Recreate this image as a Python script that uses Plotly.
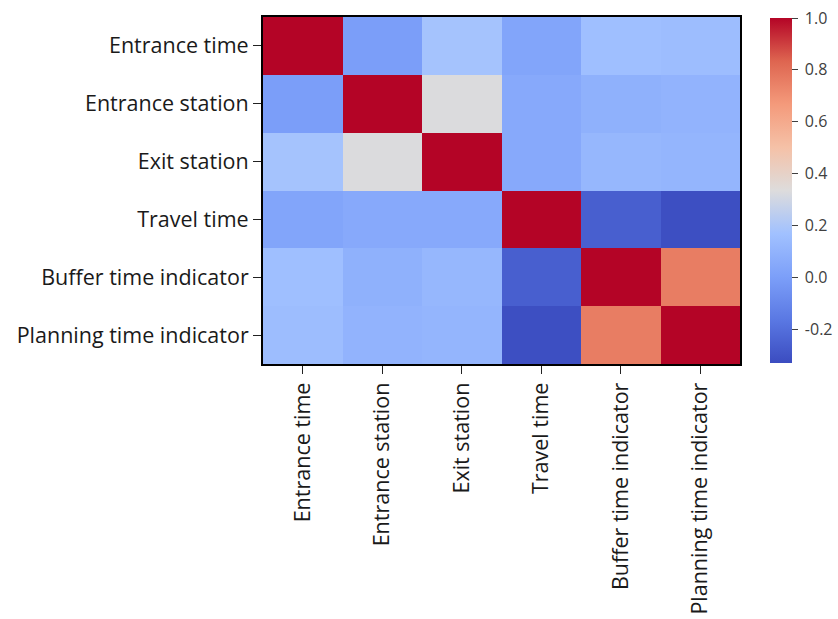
import plotly.graph_objects as go

labels = ["Entrance time", "Entrance station", "Exit station", "Travel time",
          "Buffer time indicator", "Planning time indicator"]

row_entrance_time = [1.00, 0.00, 0.18, 0.03, 0.16, 0.15]
row_entrance_station = [0.00, 1.00, 0.33, 0.05, 0.09, 0.10]
row_exit_station = [0.18, 0.33, 1.00, 0.05, 0.12, 0.11]
row_travel_time = [0.03, 0.05, 0.05, 1.00, -0.26, -0.32]
row_buffer = [0.16, 0.09, 0.12, -0.26, 1.00, 0.76]
row_planning = [0.15, 0.10, 0.11, -0.32, 0.76, 1.00]

z = [row_entrance_time, row_entrance_station, row_exit_station,
     row_travel_time, row_buffer, row_planning]

cb_ticks = [-0.2, 0.0, 0.2, 0.4, 0.6, 0.8, 0.9995]
cb_ticktext = ["-0.2", "0.0", "0.2", "0.4", "0.6", "0.8", "1.0"]

coolwarm = [
    [0.0, "rgb(59,76,192)"],
    [0.125, "rgb(90,120,227)"],
    [0.25, "rgb(124,159,249)"],
    [0.375, "rgb(161,193,255)"],
    [0.5, "rgb(221,220,220)"],
    [0.625, "rgb(245,193,167)"],
    [0.75, "rgb(244,154,123)"],
    [0.875, "rgb(222,101,80)"],
    [1.0, "rgb(180,4,38)"],
]

font_family = "Open Sans, Liberation Sans, sans-serif"

fig = go.Figure(go.Heatmap(
    z=z, x=labels, y=labels,
    colorscale=coolwarm, zmin=-0.33, zmax=1.0,
    colorbar=dict(
        thickness=22, len=0.995, lenmode="fraction",
        x=1.063, xanchor="left", xpad=0, y=0.5, yanchor="middle", ypad=0,
        tickvals=cb_ticks, ticktext=["\u00a0" + t for t in cb_ticktext],
        ticks="outside", ticklen=6, tickcolor="#404040",
        ticklabeloverflow="allow",
        tickfont=dict(family=font_family, size=16, color="#404040"),
        outlinewidth=0,
    ),
))

axis_font = dict(family=font_family, size=21.5, color="#1a1a1a")

fig.update_xaxes(
    tickangle=-90, tickfont=axis_font, ticks="outside", ticklen=8,
    tickcolor="#222", showline=True, linecolor="black", linewidth=2, mirror=True,
    showgrid=False, zeroline=False,
)
fig.update_yaxes(
    autorange="reversed", tickfont=axis_font, ticks="outside", ticklen=8,
    tickcolor="#222", showline=True, linecolor="black", linewidth=2, mirror=True,
    showgrid=False, zeroline=False,
)

fig.update_layout(
    width=838, height=619,
    margin=dict(l=263, r=98, t=17, b=255, autoexpand=False),
    paper_bgcolor="white", plot_bgcolor="white",
)

fig.write_html("out.html",
               config={"displayModeBar": False},
               post_script="document.body.style.margin='0';document.body.style.overflow='hidden';")
